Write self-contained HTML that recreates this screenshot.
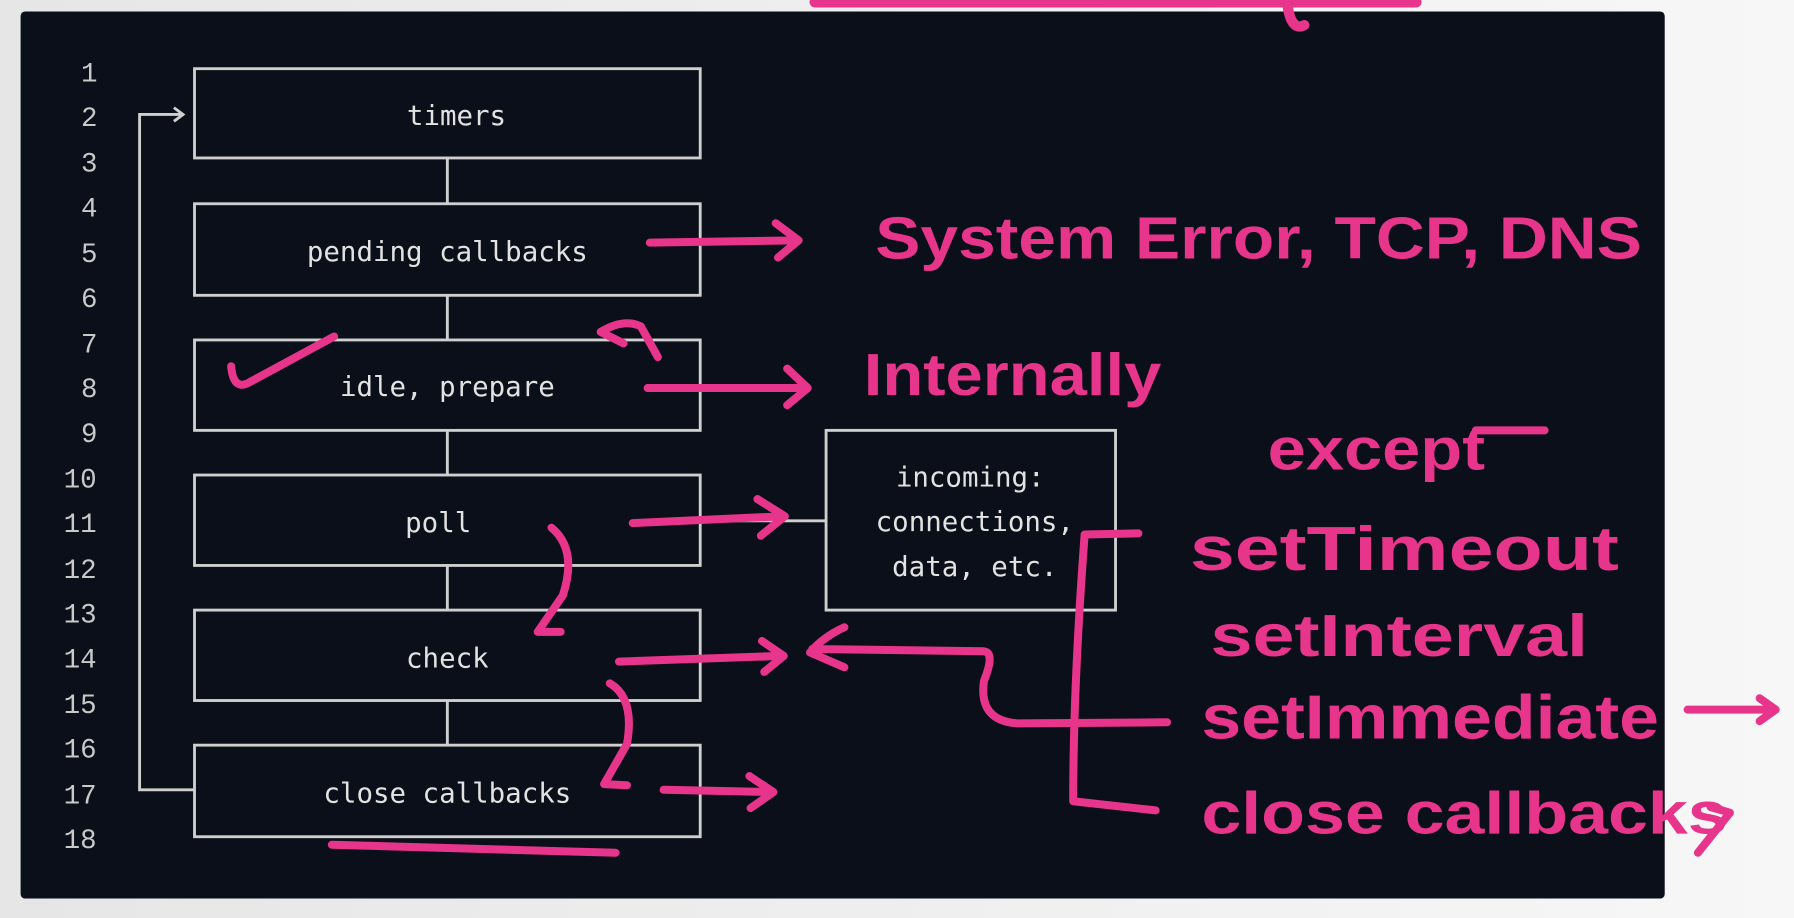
<!DOCTYPE html>
<html><head><meta charset="utf-8"><style>
html,body{margin:0;padding:0;width:1794px;height:918px;overflow:hidden;background:#ececec}
svg{display:block}
.n{font-family:"Liberation Mono","DejaVu Sans Mono",monospace;font-size:24px;fill:#c9c9c9;text-anchor:middle}
.t{font-family:"DejaVu Sans Mono","Liberation Mono",monospace;font-size:24px;fill:#e2e2e2;text-anchor:middle}
.b{fill:none;stroke:#cfcfcf;stroke-width:2.5}
.p{fill:none;stroke:#e8358c;stroke-width:7;stroke-linecap:round;stroke-linejoin:round}
.h{font-family:"Liberation Sans",sans-serif;fill:#e8358c;font-weight:bold}
</style></head><body>
<svg width="1794" height="918" viewBox="0 0 1568 802" preserveAspectRatio="none">
<defs><linearGradient id="g" x1="0" x2="1"><stop offset="0" stop-color="#e6e6e6"/><stop offset="1" stop-color="#f7f7f7"/></linearGradient></defs>
<rect width="1568" height="802" fill="url(#g)"/>
<rect x="18" y="10" width="1437" height="775" rx="4" fill="#0b0f19"/>
<path class="p" style="stroke-width:9" d="M712 2 L1238 2 M1125 2 Q1128 28 1140 22" />
<g class="n">
<text x="78" y="71">1</text><text x="78" y="110">2</text><text x="78" y="150">3</text><text x="78" y="189">4</text><text x="78" y="229">5</text><text x="78" y="268">6</text><text x="78" y="308">7</text><text x="78" y="347">8</text><text x="78" y="386">9</text><text x="70" y="426">10</text><text x="70" y="465">11</text><text x="70" y="505">12</text><text x="70" y="544">13</text><text x="70" y="583">14</text><text x="70" y="623">15</text><text x="70" y="662">16</text><text x="70" y="702">17</text><text x="70" y="741">18</text>
</g>
<g class="b">
<rect x="170" y="60" width="442" height="78"/>
<rect x="170" y="178" width="442" height="80"/>
<rect x="170" y="297" width="442" height="79"/>
<rect x="170" y="415" width="442" height="79"/>
<rect x="170" y="533" width="442" height="79"/>
<rect x="170" y="651" width="442" height="80"/>
<rect x="722" y="376" width="253" height="157"/>
<path d="M391 138V178M391 258V297M391 376V415M391 494V533M391 612V651M612 455H722"/>
<path d="M170 690H122V100H158M152 94L160 100L152 106"/>
</g>
<g class="t">
<text x="399" y="109">timers</text>
<text x="391" y="228">pending callbacks</text>
<text x="391" y="346">idle, prepare</text>
<text x="383" y="465">poll</text>
<text x="391" y="583">check</text>
<text x="391" y="701">close callbacks</text>
<text x="848" y="425">incoming:</text>
<text x="852" y="464">connections,</text>
<text x="852" y="503">data, etc.</text>
</g>
<g class="p">
<path d="M568 212L695 210M678 195L698 210L680 225"/>
<path d="M202 320Q204 342 218 334L292 294"/>
<path d="M525 290Q545 278 560 285L575 312M525 290L545 300"/>
<path d="M566 339L705 339M688 322L706 339L688 354"/>
<path d="M553 457L685 451M662 436L686 451L665 468"/>
<path d="M482 461Q505 480 492 520L470 552M470 552L490 552"/>
<path d="M541 578L683 573M666 560L685 573L668 587"/>
<path d="M708 570Q720 556 738 548M708 570L738 583M710 567L860 569Q870 570 860 595Q855 630 890 632L1020 631"/>
<path d="M533 597Q555 610 548 650L528 685L548 686"/>
<path d="M580 690L675 692M655 678L676 692L656 706"/>
<path d="M290 738L538 745"/>
<path d="M995 466L948 467Q938 600 938 700L1010 708"/>
<path d="M1475 620L1552 620M1538 610L1552 620L1538 630"/>
<path d="M1495 705L1512 710L1484 745"/>
</g>
<g class="h">
<text x="765" y="226" font-size="52" textLength="670" lengthAdjust="spacingAndGlyphs">System Error, TCP, DNS</text>
<text x="755" y="345" font-size="52" textLength="260" lengthAdjust="spacingAndGlyphs">Internally</text>
<text x="1108" y="410" font-size="52" textLength="190" lengthAdjust="spacingAndGlyphs">except</text>
<path class="p" d="M1290 376L1350 376"/>
<text x="1040" y="498" font-size="54" textLength="375" lengthAdjust="spacingAndGlyphs">setTimeout</text>
<text x="1058" y="573" font-size="52" textLength="330" lengthAdjust="spacingAndGlyphs">setInterval</text>
<text x="1050" y="645" font-size="54" textLength="400" lengthAdjust="spacingAndGlyphs">setImmediate</text>
<text x="1050" y="728" font-size="52" textLength="460" lengthAdjust="spacingAndGlyphs">close  callbacks</text>
</g>
</svg>
</body></html>
